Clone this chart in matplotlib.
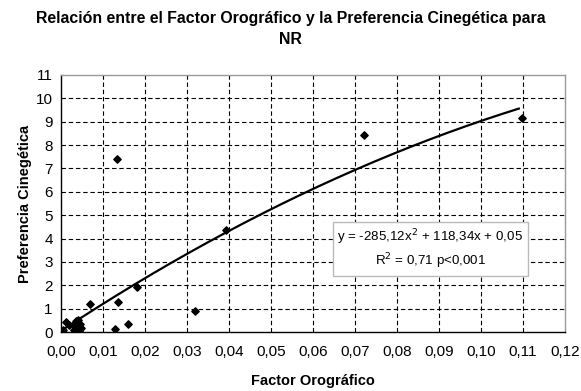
import numpy as np
from matplotlib import pyplot as plt

plt.rcParams['font.family'] = ['Liberation Sans', 'DejaVu Sans']

# puntos observados
factor = [0.0005, 0.0012, 0.0068, 0.0020, 0.0030, 0.0032, 0.0035, 0.0038, 0.0040,
          0.0042, 0.0045, 0.0048, 0.0133, 0.0136, 0.0129, 0.0159, 0.0180, 0.0318,
          0.0393, 0.0721, 0.1098]
preferencia = [0.08, 0.44, 1.18, 0.30, 0.25, 0.10, 0.45, 0.15, 0.50, 0.05,
               0.35, 0.18, 7.39, 1.30, 0.12, 0.33, 1.94, 0.89, 4.37, 8.43, 9.17]

# ajuste polinomico
coefs = [-285.12, 118.34, 0.05]
x_min_fit, x_max_fit = 0.0, 0.109

xticks = np.arange(0, 0.121, 0.01)
xtick_labels = [('%.2f' % v).replace('.', ',') for v in xticks]
yticks = list(range(0, 12))

fig = plt.figure(figsize=(5.81, 3.91), dpi=100)
ax = fig.add_axes([61 / 581, 1 - 332 / 391, 504 / 581, 257 / 391])

# rejilla discontinua
for xv in xticks[1:-1]:
    ax.axvline(xv, color='black', ls=(0, (4, 2.5)), lw=0.8, zorder=1)
for yv in yticks[1:-1]:
    ax.axhline(yv, color='black', ls=(0, (4, 2.5)), lw=0.8, zorder=1)

xf = np.linspace(x_min_fit, x_max_fit, 200)
ax.plot(xf, np.polyval(coefs, xf), color='black', lw=1.6, zorder=3)
ax.scatter(factor, preferencia, marker='D', s=14, color='black', zorder=4)

ax.set_xlim(0, 0.12)
ax.set_ylim(0, 11)
ax.set_xticks(xticks)
ax.set_xticklabels(xtick_labels, fontsize=11)
ax.set_yticks(yticks)
ax.set_yticklabels([str(v) for v in yticks], fontsize=11)
ax.tick_params(axis='x', length=0, pad=9)
ax.tick_params(axis='y', length=0, pad=6)
for s in ax.spines.values():
    s.set_color('#999999')
    s.set_linewidth(1.0)
ax.spines['left'].set_color('black')
ax.spines['bottom'].set_color('black')

ax.set_xlabel('Factor Orográfico', fontsize=10.5, fontweight='bold', labelpad=11)
ax.set_ylabel('Preferencia Cinegética', fontsize=10.5, fontweight='bold', labelpad=3)
fig.text(0.5, 1 - 29 / 391,
         'Relación entre el Factor Orográfico y la Preferencia Cinegética para\nNR',
         ha='center', va='center', fontsize=11.4, fontweight='bold', linespacing=1.55)

ax.text(0.0879, 3.55, 'y = -285,12x$^2$ + 118,34x + 0,05\nR$^2$ = 0,71 p<0,001',
        ha='center', va='center', fontsize=9.6, linespacing=1.35, zorder=5,
        bbox=dict(boxstyle='square,pad=0.35', fc='white', ec='#bbbbbb', lw=1))

fig.savefig('out.png', dpi=100)
